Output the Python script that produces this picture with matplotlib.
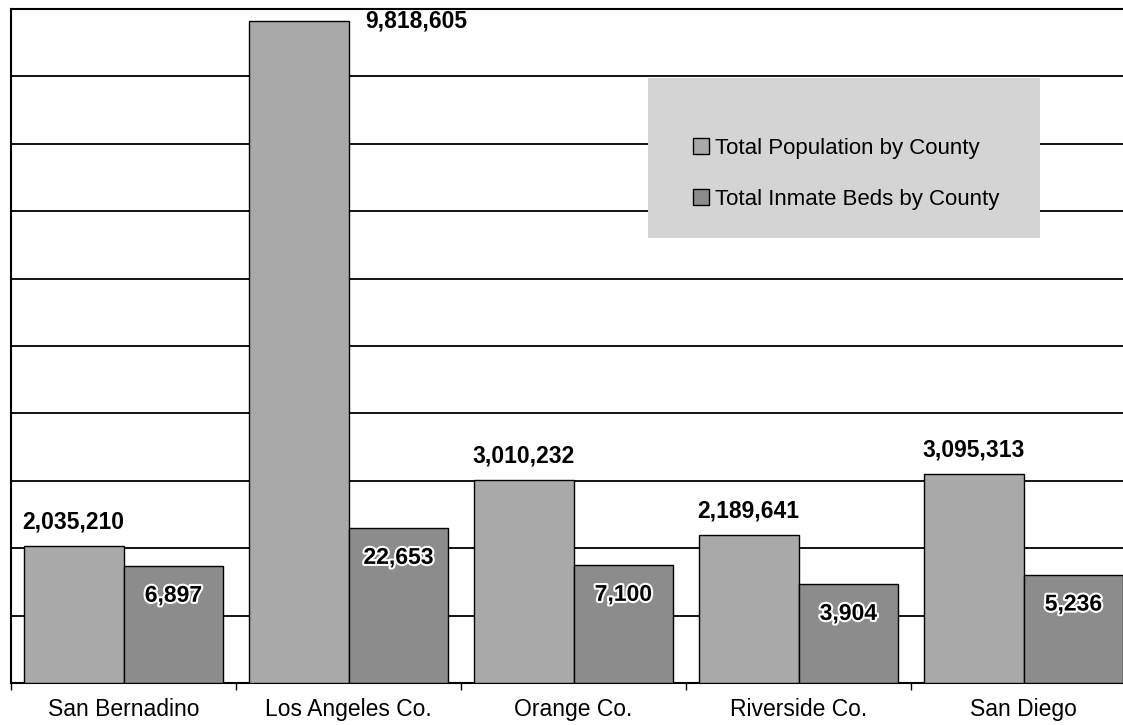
import numpy as np
import matplotlib
matplotlib.use('Agg')
from matplotlib import pyplot as plt
from matplotlib.patches import Rectangle
import matplotlib.patheffects as pe

plt.rcParams['font.family'] = ['Liberation Sans', 'DejaVu Sans']

# Дані
counties = ['San Bernadino', 'Los Angeles Co.', 'Orange Co.', 'Riverside Co.', 'San Diego']
population = [2035210, 9818605, 3010232, 2189641, 3095313]
inmate_beds = [6897, 22653, 7100, 3904, 5236]
series_names = ['Total Population by County', 'Total Inmate Beds by County']

# Вторинна вісь (логарифмічна), межі в десятих степенях
BED_LOG_MIN = 2.246
BED_LOG_MAX = 11.43

fig = plt.figure(figsize=(11.23, 7.25), dpi=100)
W, H = 1123, 725
ax = fig.add_axes([11 / W, 42 / H, 1125 / W, 674 / H])
ax2 = ax.twinx()

x = np.arange(len(counties))
width = 0.444

pop_color = '#a9a9a9'
bed_color = '#8c8c8c'

b1 = ax.bar(x - width / 2, population, width, color=pop_color, edgecolor='black',
            linewidth=1.0, label=series_names[0], zorder=3)
b2 = ax2.bar(x + width / 2, np.array(inmate_beds) - 10 ** BED_LOG_MIN, width,
             bottom=10 ** BED_LOG_MIN, color=bed_color, edgecolor='black',
             linewidth=1.0, label=series_names[1], zorder=3)

ax.set_ylim(0, 10_000_000)
ax.set_yticks(np.arange(0, 10_000_001, 1_000_000))
ax.yaxis.grid(True, color='black', linewidth=1.3)
ax.set_axisbelow(True)
ax.tick_params(axis='y', left=False, labelleft=False)

ax2.set_yscale('log')
ax2.set_ylim(10 ** BED_LOG_MIN, 10 ** BED_LOG_MAX)
ax2.tick_params(axis='y', which='both', right=False, labelright=False)
ax2.minorticks_off()

ax.set_xlim(-0.5, len(counties) - 0.5)
ax.set_xticks(x)
ax.set_xticklabels(counties, fontsize=16.5)
ax.tick_params(axis='x', which='major', length=0, pad=11)
ax.set_xticks(np.arange(-0.5, len(counties), 1.0), minor=True)
ax.tick_params(axis='x', which='minor', length=5, direction='out', width=1)

for s in ['top', 'left', 'bottom']:
    ax.spines[s].set_linewidth(1.5)
for s in ax2.spines.values():
    s.set_visible(False)

# Підписи значень
for i, v in enumerate(population):
    if i == 1:
        ax.annotate(f'{v:,}', (x[i] - width / 2, v), xytext=(85, 0),
                    textcoords='offset points', ha='center', va='center',
                    fontsize=16.5, fontweight='bold', zorder=5)
    else:
        ax.annotate(f'{v:,}', (x[i] - width / 2, v), xytext=(0, 9),
                    textcoords='offset points', ha='center', va='bottom',
                    fontsize=16.5, fontweight='bold', zorder=5)

for i, v in enumerate(inmate_beds):
    ax2.annotate(f'{v:,}', (x[i] + width / 2, v), xytext=(0, -21),
                 textcoords='offset points', ha='center', va='center',
                 fontsize=16.5, fontweight='bold', zorder=5,
                 path_effects=[pe.withStroke(linewidth=3, foreground='white')])

# Легенда
bg = Rectangle((648 / W, 1 - 238 / H), 392 / W, 160 / H, transform=fig.transFigure,
               facecolor='#d4d4d4', edgecolor='none', zorder=6)
fig.add_artist(bg)
leg = fig.legend([b1, b2], series_names, loc='center left',
                 bbox_to_anchor=(673 / W, 1 - 174 / H), frameon=False,
                 fontsize=16, handlelength=0.7, handleheight=0.7,
                 handletextpad=0.3, labelspacing=1.35)
leg.set_zorder(7)

plt.savefig('out.png', dpi=100)
